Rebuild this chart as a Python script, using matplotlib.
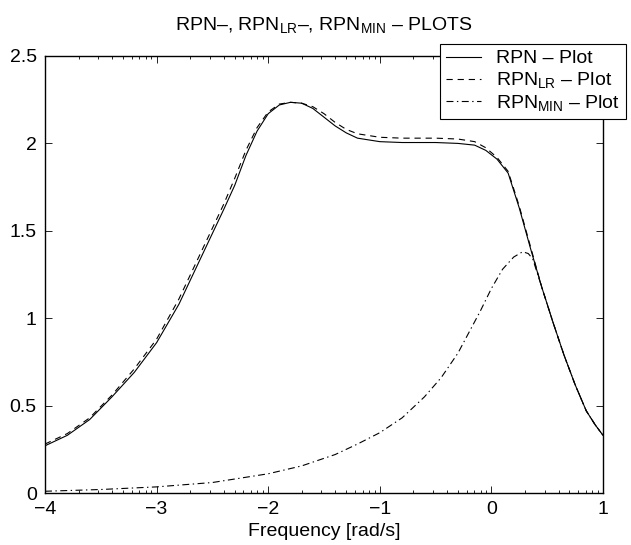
import numpy as np
import matplotlib
matplotlib.use("Agg")
import matplotlib.pyplot as plt
from matplotlib.ticker import LogLocator, FixedLocator, FixedFormatter, NullFormatter

plt.rcParams['font.family'] = ['Liberation Sans', 'DejaVu Sans']
plt.rcParams['mathtext.fontset'] = 'custom'
plt.rcParams['mathtext.rm'] = 'Liberation Sans'
plt.rcParams['mathtext.it'] = 'Liberation Sans'
plt.rcParams['lines.scale_dashes'] = False

# log10 frequency (exponents) and magnitudes
rpn_exp = [-4.0, -3.8, -3.6, -3.4, -3.2, -3.0, -2.8, -2.6, -2.4, -2.3, -2.2, -2.1,
           -2.0, -1.9, -1.8, -1.7, -1.6, -1.5, -1.4, -1.3, -1.2, -1.0, -0.8, -0.5,
           -0.3, -0.15, -0.05, 0.05, 0.15, 0.25, 0.35, 0.45, 0.55, 0.65, 0.75, 0.85,
           0.93, 1.0]
rpn_val = [0.27, 0.33, 0.42, 0.55, 0.69, 0.86, 1.08, 1.35, 1.62, 1.76, 1.93, 2.07,
           2.17, 2.22, 2.235, 2.23, 2.20, 2.15, 2.10, 2.06, 2.03, 2.01, 2.005, 2.005,
           2.0, 1.99, 1.96, 1.91, 1.83, 1.63, 1.40, 1.18, 0.98, 0.79, 0.62, 0.47,
           0.39, 0.33]

lr_exp = [-4.0, -3.8, -3.6, -3.4, -3.2, -3.0, -2.8, -2.6, -2.4, -2.3, -2.2, -2.1,
          -2.0, -1.9, -1.8, -1.7, -1.6, -1.5, -1.4, -1.3, -1.2, -1.0, -0.8, -0.5,
          -0.3, -0.15, -0.05, 0.05, 0.15, 0.25, 0.35, 0.45, 0.55, 0.65, 0.75, 0.85,
          0.93, 1.0]
lr_val = [0.28, 0.34, 0.43, 0.56, 0.71, 0.88, 1.11, 1.38, 1.65, 1.80, 1.96, 2.09,
          2.18, 2.225, 2.235, 2.23, 2.21, 2.17, 2.12, 2.08, 2.055, 2.035, 2.03, 2.03,
          2.025, 2.01, 1.975, 1.92, 1.84, 1.64, 1.41, 1.18, 0.98, 0.79, 0.62, 0.47,
          0.39, 0.33]

min_exp = [-4.0, -3.5, -3.0, -2.5, -2.0, -1.7, -1.4, -1.2, -1.0, -0.8, -0.6, -0.45,
           -0.3, -0.2, -0.1, 0.0, 0.1, 0.2, 0.28, 0.33, 0.37, 0.45, 0.55, 0.65, 0.75,
           0.85, 0.93, 1.0]
min_val = [0.01, 0.02, 0.035, 0.06, 0.11, 0.155, 0.22, 0.28, 0.345, 0.43, 0.55, 0.66,
           0.80, 0.92, 1.04, 1.17, 1.28, 1.35, 1.38, 1.37, 1.34, 1.18, 0.98, 0.79, 0.62,
           0.47, 0.39, 0.33]

labels = ['RPN \u2013 Plot',
          'RPN$_{\\mathrm{LR}}$ \u2013 Plot',
          'RPN$_{\\mathrm{MIN}}$ \u2013 Plot']
title = 'RPN\u2013, RPN$_{\\mathrm{LR}}$\u2013, RPN$_{\\mathrm{MIN}}$ \u2013 PLOTS'
xtick_labels = ['\u22124', '\u22123', '\u22122', '\u22121', '0', '1']

fs = 14

fig = plt.figure(figsize=(6.31, 5.45), dpi=100)
ax = fig.add_axes([45 / 631, 1 - 493 / 545, 558 / 631, 437 / 545])

lw = 0.8
ax.plot(10.0 ** np.array(rpn_exp), rpn_val, color='black', lw=lw, label=labels[0])
ax.plot(10.0 ** np.array(lr_exp), lr_val, color='black', lw=lw, dashes=(4.5, 3.5), label=labels[1])
ax.plot(10.0 ** np.array(min_exp), min_val, color='black', lw=lw, dashes=(5, 2.5, 1, 2.5), label=labels[2])

ax.set_xscale('log')
ax.set_xlim(1e-4, 10)
ax.set_ylim(0, 2.5)
ax.xaxis.set_major_locator(FixedLocator([1e-4, 1e-3, 1e-2, 1e-1, 1, 10]))
ax.xaxis.set_major_formatter(FixedFormatter(xtick_labels))
ax.xaxis.set_minor_locator(LogLocator(base=10, subs=np.arange(2, 10), numticks=20))
ax.xaxis.set_minor_formatter(NullFormatter())
ax.set_yticks([0, 0.5, 1, 1.5, 2, 2.5])
ax.set_yticklabels(['0', '0.5', '1', '1.5', '2', '2.5'])

ax.tick_params(which='both', direction='in', top=True, right=True, labelsize=fs, width=0.6)
ax.tick_params(which='major', length=5)
ax.tick_params(which='minor', length=2.5)
ax.tick_params(axis='x', pad=6)
ax.tick_params(axis='y', pad=6)
for s in ax.spines.values():
    s.set_linewidth(1.0)

ax.set_xlabel('Frequency [rad/s]', fontsize=fs, labelpad=3)
ax.set_title(title, fontsize=fs, pad=19)

leg = ax.legend(loc='upper left', bbox_to_anchor=(440 / 631, 1 - 44 / 545),
                bbox_transform=fig.transFigure, fontsize=fs, frameon=True, fancybox=False,
                handlelength=1.8, handletextpad=0.8, labelspacing=0.15, borderpad=0.3,
                borderaxespad=0)
leg.get_frame().set_edgecolor('black')
leg.get_frame().set_linewidth(0.8)
leg.get_frame().set_alpha(1)

fig.savefig('out.png', dpi=100)
